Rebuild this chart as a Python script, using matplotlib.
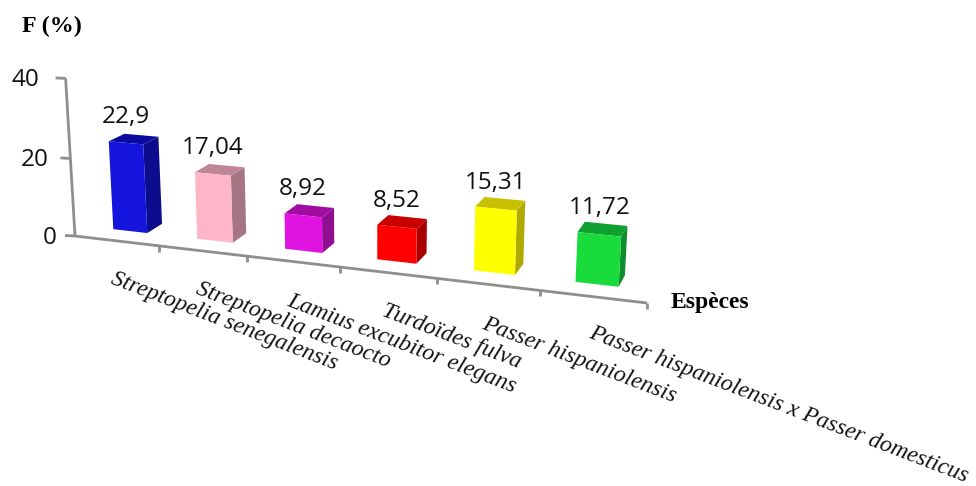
import numpy as np
import matplotlib
matplotlib.use('Agg')
import matplotlib.pyplot as plt
from matplotlib.patches import Polygon

# data
species = ['Streptopelia senegalensis', 'Streptopelia decaocto', 'Lamius excubitor elegans',
           'Turdoïdes fulva', 'Passer hispaniolensis', 'Passer hispaniolensis x Passer domesticus']
values = [22.9, 17.04, 8.92, 8.52, 15.31, 11.72]
value_labels = ['22,9', '17,04', '8,92', '8,52', '15,31', '11,72']
y_ticks = [0, 20, 40]

# bar colours: front, side, top
front_cols = ['#1414DC', '#FFB6C8', '#E014E0', '#FF0000', '#FFFF00', '#19DC3C']
side_cols = ['#0C0C8C', '#A67585', '#900F90', '#A80000', '#B0AA00', '#0F8C2D']
top_cols = ['#0A0AA0', '#C08698', '#A00CA0', '#C80000', '#C8C000', '#10A030']

# camera: homogeneous projection of (category, value, depth) to pixels
O = np.array([75.0, 236.0])
A, a = np.array([80.6, 4.26]), -0.0228
B, b = np.array([-0.285, -4.0]), -0.00077
C, c = np.array([18.1, -4.8]), 0.02


def project(u, v, d):
    return (O + u * A + v * B + d * C) / (1 + u * a + v * b + d * c)


fig = plt.figure(figsize=(9.76, 4.86), dpi=100)
ax = fig.add_axes([0, 0, 1, 1])
ax.set_xlim(0, 976)
ax.set_ylim(486, 0)
ax.axis('off')

axis_col = '#8E8E8E'


def axis_line(p, q):
    ax.plot([p[0], q[0]], [p[1], q[1]], color=axis_col, lw=2.0, solid_capstyle='butt')


# axes
axis_line(project(0, 0, 0), project(0, 40, 0))
axis_line(project(0, 0, 0), project(6, 0, 0))
for t in y_ticks:
    p = project(0, t, 0)
    axis_line(p + np.array([-10, -0.5]), p)
    ax.text(p[0] - 26 + (40 - t) * 0.2, p[1] + 2, str(t), ha='right', va='center',
            fontsize=17.5, family='Open Sans', color='#111111')
for k in range(1, 7):
    p = project(k, 0, 0)
    axis_line(p, p + np.array([0, 6]))

# bars
for k, val in enumerate(values):
    l, r = k + 0.27, k + 0.68
    side = [project(r, 0, 1), project(r, val, 1), project(r, val, 2), project(r, 0, 2)]
    top = [project(l, val, 1), project(r, val, 1), project(r, val, 2), project(l, val, 2)]
    front = [project(l, 0, 1), project(r, 0, 1), project(r, val, 1), project(l, val, 1)]
    ax.add_patch(Polygon(side, closed=True, fc=side_cols[k], ec='none'))
    ax.add_patch(Polygon(top, closed=True, fc=top_cols[k], ec='none'))
    ax.add_patch(Polygon(front, closed=True, fc=front_cols[k], ec='none'))
    p = project(k + 0.475, val, 1)
    ax.text(p[0], p[1] - 26, value_labels[k], ha='center', va='center',
            fontsize=17.5, family='Open Sans', color='#111111')

# category labels, slanted
label_starts = [(112, 278), (197, 288), (288, 300), (383, 310), (483, 323), (590, 332)]
for name, (x, y) in zip(species, label_starts):
    ax.text(x, y, name, rotation=-21, rotation_mode='anchor', ha='left', va='center',
            fontsize=17, style='italic', family='Liberation Serif', color='#111111')

ax.text(22, 26, 'F (%)', ha='left', va='center', fontsize=17.3, fontweight='bold',
        family='Liberation Serif', color='black')
ax.text(671, 302, 'Espèces', ha='left', va='center', fontsize=17, fontweight='bold',
        family='Liberation Serif', color='black')

fig.savefig('out.png', dpi=100)
